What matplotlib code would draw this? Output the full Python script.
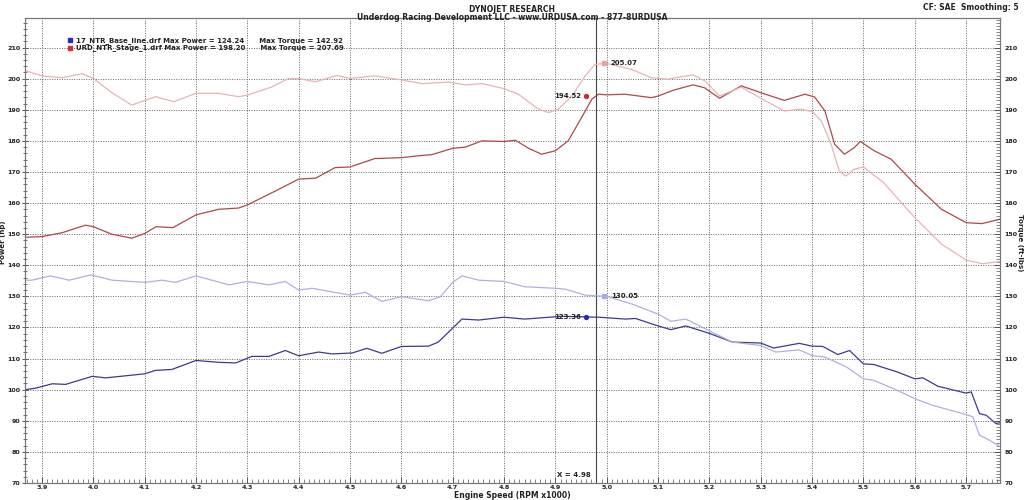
import matplotlib
matplotlib.use("Agg")
import matplotlib.pyplot as plt
from matplotlib.ticker import MultipleLocator

# Stage 1 power (hp)
rpm_sp = [3.867, 3.90, 3.94, 3.985, 4.00, 4.036, 4.075, 4.10, 4.122, 4.155, 4.20, 4.244, 4.283, 4.30,
          4.355, 4.40, 4.433, 4.471, 4.50, 4.548, 4.60, 4.633, 4.66, 4.70, 4.725, 4.757, 4.80, 4.822,
          4.848, 4.873, 4.90, 4.925, 4.951, 4.971, 4.984, 5.00, 5.035, 5.087, 5.10, 5.13, 5.168, 5.19,
          5.22, 5.262, 5.30, 5.346, 5.386, 5.405, 5.425, 5.444, 5.463, 5.482, 5.494, 5.521, 5.554,
          5.60, 5.652, 5.70, 5.731, 5.766]
hp_stage = [149.0, 149.2, 150.5, 152.9, 152.4, 150.0, 148.7, 150.2, 152.4, 152.1, 156.2, 158.0, 158.4,
            159.4, 163.9, 167.7, 168.0, 171.4, 171.6, 174.3, 174.6, 175.2, 175.6, 177.6, 178.0, 180.0,
            179.8, 180.2, 177.6, 175.7, 176.8, 180.0, 187.5, 193.4, 195.0, 194.8, 195.0, 193.9, 194.4,
            196.3, 198.0, 197.1, 193.7, 197.7, 195.5, 193.0, 195.0, 194.1, 189.6, 178.9, 175.7, 177.8,
            179.8, 176.8, 174.1, 166.1, 158.0, 153.7, 153.4, 154.8]

# Stage 1 torque (ft-lbs)
rpm_st = [3.867, 3.90, 3.94, 3.978, 4.00, 4.036, 4.075, 4.10, 4.122, 4.157, 4.20, 4.244, 4.283, 4.30,
          4.347, 4.38, 4.40, 4.433, 4.474, 4.50, 4.548, 4.60, 4.641, 4.693, 4.725, 4.757, 4.80, 4.828,
          4.867, 4.887, 4.906, 4.932, 4.958, 4.977, 5.00, 5.048, 5.087, 5.12, 5.13, 5.168, 5.191, 5.22,
          5.262, 5.30, 5.346, 5.378, 5.40, 5.418, 5.437, 5.453, 5.466, 5.482, 5.50, 5.539, 5.60, 5.652,
          5.70, 5.731, 5.766]
tq_stage = [202.6, 200.9, 200.3, 201.6, 200.1, 195.5, 191.5, 193.0, 194.2, 192.6, 195.3, 195.3, 194.2,
            194.7, 197.3, 200.0, 200.0, 199.0, 201.0, 200.1, 200.9, 199.6, 198.4, 198.9, 198.0, 198.4,
            196.8, 195.0, 190.2, 189.1, 190.2, 194.4, 200.9, 204.6, 204.9, 203.0, 200.3, 199.8, 200.2,
            201.2, 199.3, 194.4, 197.3, 193.7, 189.6, 190.2, 189.4, 186.4, 178.9, 170.3, 168.7, 170.9,
            171.6, 166.6, 155.3, 146.8, 141.7, 140.5, 141.2]

# Base line torque (ft-lbs)
rpm_bt = [3.867, 3.88, 3.917, 3.953, 3.995, 4.037, 4.10, 4.134, 4.16, 4.20, 4.264, 4.30, 4.342, 4.374,
          4.40, 4.426, 4.50, 4.53, 4.562, 4.60, 4.653, 4.676, 4.70, 4.718, 4.751, 4.80, 4.84, 4.90,
          4.92, 4.958, 5.00, 5.05, 5.10, 5.125, 5.154, 5.20, 5.245, 5.30, 5.329, 5.375, 5.40, 5.425,
          5.467, 5.50, 5.52, 5.566, 5.60, 5.634, 5.70, 5.713, 5.726, 5.745, 5.766]
tq_base = [135.2, 135.2, 136.6, 135.2, 136.9, 135.2, 134.5, 135.2, 134.5, 136.6, 133.7, 134.8, 133.7,
           134.8, 132.0, 132.6, 130.4, 131.3, 128.4, 129.9, 128.6, 129.9, 134.5, 136.6, 135.2, 134.8,
           133.1, 132.6, 132.3, 130.4, 130.0, 127.5, 124.3, 122.0, 122.7, 118.9, 115.3, 114.2, 112.1,
           112.8, 111.0, 110.5, 107.3, 103.5, 103.0, 99.8, 97.1, 95.0, 92.0, 91.3, 85.4, 83.8, 81.7]

# Base line power (hp)
rpm_bp = [3.867, 3.888, 3.92, 3.946, 3.998, 4.024, 4.10, 4.121, 4.153, 4.20, 4.244, 4.277, 4.309, 4.342,
          4.374, 4.40, 4.439, 4.465, 4.504, 4.533, 4.562, 4.60, 4.653, 4.672, 4.70, 4.718, 4.751, 4.80,
          4.84, 4.913, 4.96, 4.985, 5.037, 5.056, 5.10, 5.125, 5.154, 5.20, 5.245, 5.30, 5.325, 5.375,
          5.40, 5.421, 5.45, 5.473, 5.50, 5.52, 5.566, 5.60, 5.616, 5.645, 5.70, 5.71, 5.726, 5.739,
          5.758, 5.766]
hp_base = [100.0, 100.5, 101.9, 101.7, 104.3, 103.8, 105.1, 106.2, 106.5, 109.4, 108.8, 108.6, 110.7,
           110.7, 112.6, 110.9, 112.1, 111.5, 111.8, 113.3, 111.7, 113.9, 114.0, 115.3, 119.8, 122.7,
           122.4, 123.3, 122.7, 123.6, 123.4, 123.3, 122.7, 122.9, 120.5, 119.3, 120.5, 118.1, 115.3,
           115.0, 113.4, 114.9, 114.0, 113.9, 111.3, 112.6, 108.3, 108.1, 105.7, 103.5, 103.8, 101.1,
           98.9, 99.3, 92.3, 91.8, 89.1, 89.4]

cursor_x = 4.98
marker_x = [4.96, 4.995, 4.96, 4.995]
marker_y = [194.52, 205.07, 123.36, 130.05]
marker_lbl = ["194.52", "205.07", "123.36", "130.05"]
legend_lines = ["17_NTR_Base_line.drf Max Power = 124.24      Max Torque = 142.92",
                "URD_NTR_Stage_1.drf Max Power = 198.20      Max Torque = 207.69"]

c_hp_stage = "#b04848"
c_tq_stage = "#e8b4b4"
c_hp_base = "#3a3a94"
c_tq_base = "#b0b0dc"
txt = "#222222"

plt.rcParams['font.family'] = ['DejaVu Sans']
fig = plt.figure(figsize=(10.24, 5.0), dpi=100)
ax = fig.add_axes([25 / 1024, 17 / 500, 975 / 1024, 465 / 500])
ax2 = ax.twinx()

for a in (ax, ax2):
    a.set_ylim(70, 219.5)
    a.yaxis.set_major_locator(MultipleLocator(10))
    a.yaxis.set_minor_locator(MultipleLocator(2))
ax.set_xlim(3.867, 5.766)
ax.xaxis.set_major_locator(MultipleLocator(0.1))
ax.xaxis.set_minor_locator(MultipleLocator(0.01))

ax.grid(True, which='major', color='#666666', linestyle=(0, (1, 1.5)), linewidth=0.7)
ax.set_axisbelow(True)

ax.plot(rpm_sp, hp_stage, color=c_hp_stage, lw=0.9)
ax.plot(rpm_bp, hp_base, color=c_hp_base, lw=0.9)
ax2.plot(rpm_st, tq_stage, color=c_tq_stage, lw=0.9)
ax2.plot(rpm_bt, tq_base, color=c_tq_base, lw=0.9)

ax.axvline(cursor_x, color='#444444', lw=0.8)
ax.text(cursor_x - 0.012, 72.5, "X = " + format(cursor_x, '.2f'), fontsize=5, fontweight='bold',
        color=txt, ha='right', va='center')

# cursor readouts
ax2.plot(marker_x[0], marker_y[0], 'o', ms=2.8, color='#d02828')
ax2.plot(marker_x[1], marker_y[1], 's', ms=3, color='#eea0a0')
ax2.plot(marker_x[2], marker_y[2], 'o', ms=2.8, color='#2828c8')
ax2.plot(marker_x[3], marker_y[3], 's', ms=3, color='#a8a8ec')
for i in range(4):
    if i % 2 == 0:
        ax2.text(marker_x[i] - 0.01, marker_y[i], marker_lbl[i], fontsize=5, fontweight='bold',
                 color=txt, ha='right', va='center')
    else:
        ax2.text(marker_x[i] + 0.013, marker_y[i], marker_lbl[i], fontsize=5, fontweight='bold',
                 color=txt, ha='left', va='center')

# legend box
leg_cols = ['#2a2ad0', '#d03030']
for i, s in enumerate(legend_lines):
    yy = 0.952 - i * 0.016
    ax2.plot(0.046, yy, 's', ms=3.5, color=leg_cols[i], transform=ax.transAxes, clip_on=False)
    ax2.text(0.052, yy, s, fontsize=5, fontweight='bold', color=txt, va='center', ha='left',
             transform=ax.transAxes)

for a in (ax, ax2):
    for sp in a.spines.values():
        sp.set_color('#777777')
        sp.set_linewidth(0.8)
ax.tick_params(axis='both', which='both', labelsize=4.6, colors='#555555', labelcolor=txt)
ax.tick_params(axis='y', which='major', direction='inout', length=5, width=0.7, pad=0.5)
ax.tick_params(axis='y', which='minor', direction='inout', length=3, width=0.6)
ax.tick_params(axis='x', which='major', direction='in', length=4, width=0.7, pad=1.5)
ax.tick_params(axis='x', which='minor', direction='in', length=3, width=0.5)
ax2.yaxis.set_minor_locator(MultipleLocator(1))
ax2.tick_params(axis='y', which='both', labelsize=4.6, colors='#555555', labelcolor=txt)
ax2.tick_params(axis='y', which='major', direction='in', length=4, width=0.7, pad=3)
ax2.tick_params(axis='y', which='minor', direction='in', length=3, width=0.5)
for lab in ax.get_xticklabels() + ax.get_yticklabels() + ax2.get_yticklabels():
    lab.set_fontweight('bold')

ax.set_xlabel("Engine Speed (RPM x1000)", fontsize=5.5, fontweight='bold', color=txt, labelpad=1)
fig.text(3.5 / 1024, 0.515, "Power (hp)", fontsize=5, fontweight='bold', color=txt,
         rotation=90, ha='center', va='center')
fig.text(1020 / 1024, 0.515, "Torque (ft-lbs)", fontsize=5, fontweight='bold', color=txt,
         rotation=-90, ha='center', va='center')

fig.text(0.5, 0.991, "DYNOJET RESEARCH", fontsize=5.5, fontweight='bold', color=txt, ha='center', va='top')
fig.text(0.5, 0.975, "Underdog Racing Development LLC - www.URDUSA.com - 877-8URDUSA", fontsize=5.5,
         fontweight='bold', color=txt, ha='center', va='top')
fig.text(0.995, 0.995, "CF: SAE  Smoothing: 5", fontsize=5.5, fontweight='bold', color=txt,
         ha='right', va='top')

fig.savefig("out.png", dpi=100)
